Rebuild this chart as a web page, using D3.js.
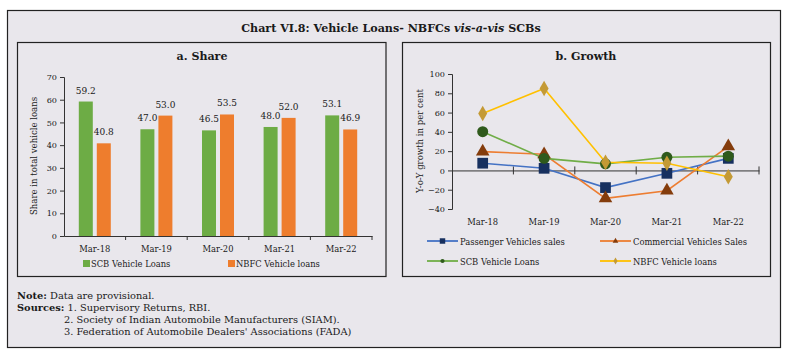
<!DOCTYPE html>
<html><head><meta charset="utf-8">
<script src="https://cdn.jsdelivr.net/npm/d3@7"></script>
<style>
body{margin:0;background:#fff;}
svg text{font-family:"DejaVu Serif","Liberation Serif",serif;fill:#1a1a1a;}
</style></head>
<body><svg id="c" width="788" height="358"></svg>
<script>
const categories = ["Mar-18","Mar-19","Mar-20","Mar-21","Mar-22"];
const scbShare = [59.2,47.0,46.5,48.0,53.1];
const nbfcShare = [40.8,53.0,53.5,52.0,46.9];
const shareTicks = [0,10,20,30,40,50,60,70];
const passengerGrowth = [7.5,2.2,-17.8,-3,12.5];
const commercialGrowth = [19.5,16.8,-29,-21,25];
const scbGrowth = [40.2,12.5,6.8,13.6,14.8];
const nbfcGrowth = [59,85,8.4,7.4,-6.5];
const growthTicks = [-40,-20,0,20,40,60,80,100];

const svg = d3.select("#c");
function fit(sample, width, weight){
  const t = svg.append("text").attr("font-size",10).attr("font-weight",weight||"normal").text(sample);
  const w = t.node().getComputedTextLength(); t.remove();
  return 10*width/w;
}
const fsTitle = fit("Chart VI.8: Vehicle Loans- NBFCs vis-a-vis SCBs",300,"bold");
const fsPanel = fit("a. Share",51,"bold");
const fsCat = fit("Mar-18",31);
const fsVal = fit("59.2",20);
const fsTick = fit("100",15.5);
const fsLeg = fit("Passenger Vehicles sales",105);
const fsYT = fit("Y-o-Y growth in per cent",104);
const fsNote = fit("3. Federation of Automobile Dealers' Associations (FADA)",288);

const bg = "#E9E7EC";
svg.append("rect").attr("x",7.5).attr("y",10.5).attr("width",773).attr("height",337).attr("fill",bg).attr("stroke","#222").attr("stroke-width",1.2);
svg.append("text").attr("x",391).attr("y",32).attr("text-anchor","middle").attr("font-size",fsTitle).attr("font-weight","bold")
  .html('Chart VI.8: Vehicle Loans- NBFCs <tspan font-style="italic">vis-a-vis</tspan> SCBs');

[[17.5,42.5,368.5,234],[402.5,42.5,368,234]].forEach(p=>{
  svg.append("rect").attr("x",p[0]).attr("y",p[1]).attr("width",p[2]).attr("height",p[3]).attr("fill",bg).attr("stroke","#222").attr("stroke-width",1.2);
});

function styleAxis(a){
  a.selectAll("path,line").attr("stroke","#333");
  a.selectAll("text").attr("font-size",fsTick).attr("font-family","DejaVu Serif").attr("fill","#1a1a1a");
}

// ---- Left chart
const gL = svg.append("g");
gL.append("text").attr("x",202).attr("y",60).attr("text-anchor","middle").attr("font-size",fsPanel).attr("font-weight","bold").text("a. Share");
const xL = d3.scaleBand().domain(categories).range([64,372]);
const yL = d3.scaleLinear().domain([0,70]).range([236,77]);
const yAxL = gL.append("g").attr("transform","translate(64,0)").call(d3.axisLeft(yL).tickValues(shareTicks).tickSize(4).tickPadding(3));
const xAxL = gL.append("g").attr("transform","translate(0,236)").call(d3.axisBottom(xL).tickSize(0).tickFormat(""));
styleAxis(yAxL); styleAxis(xAxL);
gL.append("g").selectAll("line").data(categories).join("line")
  .attr("x1",(d,i)=>xL.range()[0]+xL.step()*(i+1)).attr("x2",(d,i)=>xL.range()[0]+xL.step()*(i+1))
  .attr("y1",236).attr("y2",240).attr("stroke","#333");
gL.append("g").selectAll("text").data(categories).join("text")
  .attr("x",d=>xL(d)+xL.bandwidth()/2).attr("y",252).attr("text-anchor","middle").attr("font-size",fsCat).text(d=>d);
gL.append("text").attr("transform","translate(37,156) rotate(-90)").attr("text-anchor","middle").attr("font-size",fsYT).text("Share in total vehicle loans");
const bw = 14;
const green="#6DAC45", orange="#EE7D2D";
categories.forEach((c,i)=>{
  const cx = xL(c)+xL.bandwidth()/2;
  const bars=[{v:scbShare[i],x:cx-bw-2,col:green},{v:nbfcShare[i],x:cx+2,col:orange}];
  bars.forEach(b=>{
    gL.append("rect").attr("x",b.x).attr("y",yL(b.v)).attr("width",bw).attr("height",236-yL(b.v)).attr("fill",b.col);
    gL.append("text").attr("x",b.x+bw/2).attr("y",yL(b.v)-8).attr("text-anchor","middle").attr("font-size",fsVal).text(b.v.toFixed(1));
  });
});
gL.append("rect").attr("x",83).attr("y",260).attr("width",7).attr("height",7).attr("fill",green);
gL.append("text").attr("x",91).attr("y",267).attr("font-size",fsLeg).text("SCB Vehicle Loans");
gL.append("rect").attr("x",228).attr("y",260).attr("width",7).attr("height",7).attr("fill",orange);
gL.append("text").attr("x",236).attr("y",267).attr("font-size",fsLeg).text("NBFC Vehicle loans");

// ---- Right chart
const gR = svg.append("g");
gR.append("text").attr("x",586).attr("y",60).attr("text-anchor","middle").attr("font-size",fsPanel).attr("font-weight","bold").text("b. Growth");
const xR = d3.scaleBand().domain(categories).range([452,759]);
const yR = d3.scaleLinear().domain([-40,100]).range([209,74]);
const yAxR = gR.append("g").attr("transform","translate(452,0)").call(d3.axisLeft(yR).tickValues(growthTicks).tickSize(4).tickPadding(3));
const xAxR = gR.append("g").attr("transform",`translate(0,${yR(0)})`).call(d3.axisBottom(xR).tickSize(0).tickFormat(""));
styleAxis(yAxR); styleAxis(xAxR);
gR.append("g").selectAll("line").data(categories).join("line")
  .attr("x1",(d,i)=>xR.range()[0]+xR.step()*(i+1)).attr("x2",(d,i)=>xR.range()[0]+xR.step()*(i+1))
  .attr("y1",yR(0)-4).attr("y2",yR(0)+4).attr("stroke","#333");
gR.append("g").selectAll("text").data(categories).join("text")
  .attr("x",d=>xR(d)+xR.bandwidth()/2).attr("y",225).attr("text-anchor","middle").attr("font-size",fsCat).text(d=>d);
gR.append("text").attr("transform","translate(423,141) rotate(-90)").attr("text-anchor","middle").attr("font-size",fsYT).text("Y-o-Y growth in per cent");

const series = [
  {name:"Passenger Vehicles sales",vals:passengerGrowth,line:"#4472C4",mark:"#17305F",sym:d3.symbolSquare,size:115},
  {name:"Commercial Vehicles Sales",vals:commercialGrowth,line:"#ED7D31",mark:"#843C0C",sym:d3.symbolTriangle,size:80},
  {name:"SCB Vehicle Loans",vals:scbGrowth,line:"#70AD47",mark:"#2F5A1C",sym:d3.symbolCircle,size:95},
  {name:"NBFC Vehicle loans",vals:nbfcGrowth,line:"#FFC000",mark:"#C49A35",sym:d3.symbolDiamond,size:70}
];
const lineGen = d3.line().x((d,i)=>xR(categories[i])+xR.bandwidth()/2).y(d=>yR(d));
series.forEach(s=>{
  gR.append("path").datum(s.vals).attr("d",lineGen).attr("fill","none").attr("stroke",s.line).attr("stroke-width",1.6);
});
series.forEach(s=>{
  gR.append("g").selectAll("path").data(s.vals).join("path")
    .attr("transform",(d,i)=>`translate(${xR(categories[i])+xR.bandwidth()/2},${yR(d)})`)
    .attr("d",d3.symbol(s.sym,s.size)).attr("fill",s.mark);
});
const legPos=[[427,241],[600,241],[427,261],[600,261]];
series.forEach((s,i)=>{
  const [lx,ly]=legPos[i];
  gR.append("line").attr("x1",lx).attr("x2",lx+31).attr("y1",ly).attr("y2",ly).attr("stroke",s.line).attr("stroke-width",1.8);
  gR.append("path").attr("transform",`translate(${lx+15.5},${ly})`).attr("d",d3.symbol(s.sym,i===0?30:14)).attr("fill",s.mark);
  gR.append("text").attr("x",lx+33).attr("y",ly+3.5).attr("font-size",fsLeg).text(s.name);
});

// notes
const notes = svg.append("g").attr("font-size",fsNote);
notes.append("text").attr("x",17).attr("y",298.5).html('<tspan font-weight="bold">Note:</tspan> Data are provisional.');
notes.append("text").attr("x",17).attr("y",310.5).html('<tspan font-weight="bold">Sources:</tspan> 1. Supervisory Returns, RBI.');
notes.append("text").attr("x",64).attr("y",322.5).text("2. Society of Indian Automobile Manufacturers (SIAM).");
notes.append("text").attr("x",64).attr("y",334.5).text("3. Federation of Automobile Dealers' Associations (FADA)");
</script></body></html>
